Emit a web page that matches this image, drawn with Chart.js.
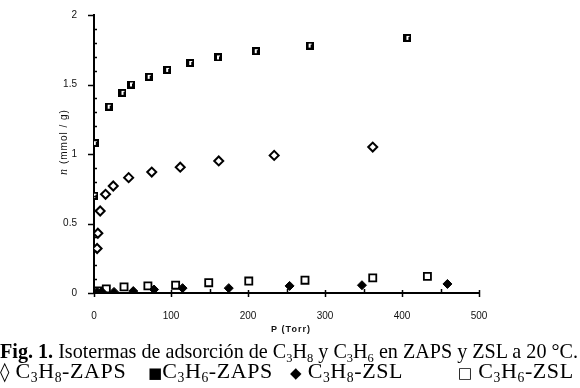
<!DOCTYPE html>
<html>
<head>
<meta charset="utf-8">
<script src="https://cdn.jsdelivr.net/npm/chart.js@4"></script>
<style>
  html, body { margin: 0; padding: 0; background: #fff; }
  #wrap { position: relative; width: 580px; height: 388px; overflow: hidden; }
  canvas { position: absolute; left: 0; top: 0; }
  .cap {
    position: absolute;
    font-family: 'Liberation Serif', 'Times New Roman', serif;
    font-size: 21px;
    line-height: 21px;
    color: #000;
    white-space: nowrap;
    transform-origin: 0 0;
  }
  .cap.leg { font-size: 22px; letter-spacing: 0.6px; }
  .cap sub { font-size: 0.62em; vertical-align: -0.3em; line-height: 0; }
  .sym { font-family: 'DejaVu Sans', sans-serif; font-size: 15px; letter-spacing: 0; }
  .sym.big { font-size: 19px; }
</style>
</head>
<body>
<div id="wrap">
  <canvas id="isoChart" width="580" height="340"></canvas>
  <div class="cap" id="capLine" style="left:0; top:341px"><b>Fig. 1.</b> Isotermas de adsorción de C<sub>3</sub>H<sub>8</sub> y C<sub>3</sub>H<sub>6</sub> en ZAPS y ZSL a 20 °C.</div>
  <div class="cap leg" style="left:0; top:360px"><span class="sym big">◊</span> C<sub>3</sub>H<sub>8</sub>-ZAPS</div>
  <div class="cap leg" style="left:148px; top:360px"><span class="sym">■</span>C<sub>3</sub>H<sub>6</sub>-ZAPS</div>
  <div class="cap leg" style="left:290px; top:360px"><span class="sym">◆</span> C<sub>3</sub>H<sub>8</sub>-ZSL</div>
  <div class="cap leg" style="left:458px; top:360px"><span class="sym">□</span> C<sub>3</sub>H<sub>6</sub>-ZSL</div>
</div>

<script>
// pressure (Torr) and uptake n (mmol/g)
const propaneZapsP = [4, 5, 8, 15, 25, 45, 75, 112, 162, 234, 362]
const propaneZapsN = [0.32, 0.43, 0.59, 0.71, 0.77, 0.83, 0.87, 0.905, 0.95, 0.99, 1.05]

const propyleneZapsP = [0.5, 1, 19, 37, 48, 71, 95, 125, 161, 210, 280, 407]
const propyleneZapsN = [0.70, 1.08, 1.34, 1.44, 1.50, 1.555, 1.605, 1.655, 1.695, 1.74, 1.78, 1.835]

const propaneZslP = [4, 10, 26, 51, 78, 115, 175, 254, 348, 459]
const propaneZslN = [0.008, 0.01, 0.008, 0.014, 0.025, 0.035, 0.035, 0.051, 0.056, 0.065]

const propyleneZslP = [5, 16, 39, 70, 106, 149, 201, 274, 362, 433]
const propyleneZslN = [0.015, 0.03, 0.044, 0.051, 0.056, 0.074, 0.086, 0.092, 0.109, 0.12]

const xTicks = [0, 100, 200, 300, 400, 500]
const yTicks = [0, 0.5, 1, 1.5, 2]

function toPoints(xs, ys) {
  return xs.map((x, i) => ({ x: x, y: ys[i] }))
}

// black square with a little white notch, like the scanned marker
function squareSprite() {
  const c = document.createElement('canvas')
  c.width = 8
  c.height = 8
  const g = c.getContext('2d')
  g.fillStyle = '#000'
  g.fillRect(0, 0, 8, 8)
  g.fillStyle = '#fff'
  g.fillRect(3, 2, 2, 4)
  g.fillRect(3, 2, 3, 1)
  return c
}

// tick marks + axis titles drawn by hand (major/minor like the original)
const axisDecor = {
  id: 'axisDecor',
  afterDraw(chart) {
    const { ctx, chartArea: a, scales } = chart
    const x = scales.x
    const y = scales.y
    ctx.save()
    ctx.strokeStyle = '#000'
    ctx.lineWidth = 1.5
    ctx.beginPath()
    for (let i = 0; i <= 20; i++) {
      const py = Math.round(y.getPixelForValue(i / 10)) + 0.5
      if (i % 5 === 0) {
        ctx.moveTo(a.left - 6, py)
        ctx.lineTo(a.left + 1, py)
      } else {
        ctx.moveTo(a.left, py)
        ctx.lineTo(a.left + 3, py)
      }
    }
    for (let i = 0; i <= 10; i++) {
      const px = Math.round(x.getPixelForValue(i * 50)) + 0.5
      if (i % 2 === 0) {
        ctx.moveTo(px, a.bottom - 3)
        ctx.lineTo(px, a.bottom + 4)
      } else {
        ctx.moveTo(px, a.bottom - 4)
        ctx.lineTo(px, a.bottom)
      }
    }
    ctx.stroke()

    ctx.fillStyle = '#111'
    ctx.textBaseline = 'middle'
    ctx.textAlign = 'center'
    ctx.letterSpacing = '1px'
    ctx.font = 'bold 9px "Liberation Sans", Arial, sans-serif'
    ctx.fillText('P (Torr)', 291, 330)

    // y title: italic n + (mmol / g), rotated
    ctx.translate(64, 142)
    ctx.rotate(-Math.PI / 2)
    ctx.textAlign = 'left'
    const nFont = 'italic 12px "Liberation Serif", serif'
    const restFont = '10px "Liberation Sans", Arial, sans-serif'
    ctx.font = nFont
    const wN = ctx.measureText('n').width
    ctx.font = restFont
    const rest = ' (mmol / g)'
    const wR = ctx.measureText(rest).width
    const start = -(wN + wR) / 2
    ctx.font = nFont
    ctx.fillText('n', start, 0)
    ctx.font = restFont
    ctx.fillText(rest, start + wN, 0)
    ctx.restore()
  }
}

const tickFont = { family: '"Liberation Sans", Arial, sans-serif', size: 10 }

new Chart(document.getElementById('isoChart').getContext('2d'), {
  type: 'scatter',
  data: {
    datasets: [
      {
        label: 'C3H8-ZAPS',
        data: toPoints(propaneZapsP, propaneZapsN),
        pointStyle: 'rectRot',
        pointRadius: 4.5,
        backgroundColor: '#fff',
        borderColor: '#000',
        borderWidth: 2
      },
      {
        label: 'C3H6-ZAPS',
        data: toPoints(propyleneZapsP, propyleneZapsN),
        pointStyle: squareSprite(),
        pointRadius: 4,
        backgroundColor: '#000',
        borderColor: '#000',
        borderWidth: 0
      },
      {
        label: 'C3H8-ZSL',
        data: toPoints(propaneZslP, propaneZslN),
        pointStyle: 'rectRot',
        pointRadius: 4.5,
        backgroundColor: '#000',
        borderColor: '#000',
        borderWidth: 1
      },
      {
        label: 'C3H6-ZSL',
        data: toPoints(propyleneZslP, propyleneZslN),
        pointStyle: 'rect',
        pointRadius: 5,
        backgroundColor: '#fff',
        borderColor: '#000',
        borderWidth: 1.8
      }
    ]
  },
  options: {
    responsive: false,
    animation: false,
    devicePixelRatio: 1,
    layout: { padding: { left: 0, right: 101, top: 5, bottom: 0 } },
    plugins: {
      legend: { display: false },
      tooltip: { enabled: false }
    },
    scales: {
      x: {
        type: 'linear',
        min: 0,
        max: 500,
        afterFit: (s) => { s.height = 47 },
        afterBuildTicks: (s) => { s.ticks = xTicks.map((v) => ({ value: v })) },
        grid: { display: false },
        border: { display: true, color: '#000', width: 2 },
        ticks: { font: tickFont, color: '#111', padding: 9, maxRotation: 0, callback: (v) => String(v) }
      },
      y: {
        type: 'linear',
        min: 0,
        max: 2,
        afterFit: (s) => { s.width = 94 },
        afterBuildTicks: (s) => { s.ticks = yTicks.map((v) => ({ value: v })) },
        grid: { display: false },
        border: { display: true, color: '#000', width: 2 },
        ticks: { font: tickFont, color: '#111', padding: 9, callback: (v) => String(v) }
      }
    }
  },
  plugins: [axisDecor]
})

// squeeze the first caption line to the scanned width
const capLine = document.getElementById('capLine')
const w = capLine.getBoundingClientRect().width
capLine.style.transform = 'scaleX(' + (578 / w) + ')'
</script>
</body>
</html>
